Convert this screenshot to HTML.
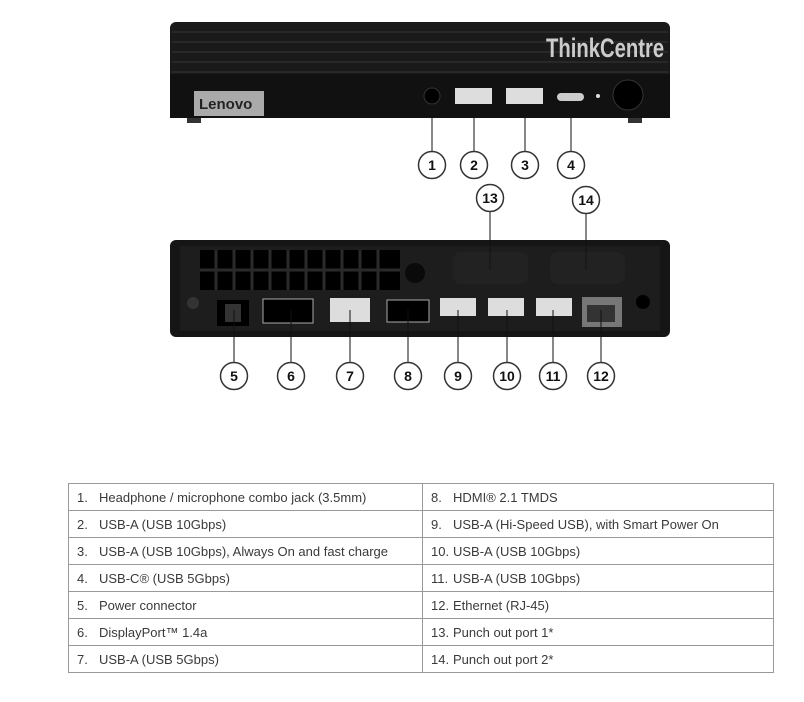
<!DOCTYPE html>
<html><head><style>
body{margin:0;width:804px;height:702px;background:#fff;overflow:hidden;font-family:"Liberation Sans",sans-serif}
svg{position:absolute;left:0;top:0}
table{position:absolute;left:68px;top:483px;border-collapse:collapse;font-size:13px;color:#3a3a3a}
td{border:1px solid #999;height:26px;padding:0 0 0 8px;white-space:nowrap}
td.l{width:345px}td.r{width:342px}
.n{display:inline-block;width:22px}
</style></head><body>
<svg width="804" height="480" viewBox="0 0 804 480" font-family="Liberation Sans,sans-serif">
<!-- front -->
<rect x="170" y="22" width="500" height="96" rx="6" fill="#1a1a1a"/>
<g stroke="#2c2c2c" stroke-width="1.5">
<line x1="172" y1="32" x2="668" y2="32"/><line x1="172" y1="42" x2="668" y2="42"/><line x1="172" y1="52" x2="668" y2="52"/><line x1="172" y1="62" x2="668" y2="62"/><line x1="172" y1="72" x2="668" y2="72"/></g>
<rect x="170" y="74" width="500" height="44" fill="#111"/>
<text transform="translate(546,57) scale(0.75,1)" font-size="27" font-weight="bold" fill="#ccc">ThinkCentre</text>
<rect x="194" y="91" width="70" height="25" fill="#aaa"/>
<text x="199" y="109" font-size="15" font-weight="bold" fill="#222">Lenovo</text>
<rect x="187" y="118" width="14" height="5" fill="#333"/><rect x="628" y="118" width="14" height="5" fill="#333"/>
<circle cx="432" cy="96" r="8" fill="#000" stroke="#333"/>
<rect x="455" y="88" width="37" height="16" fill="#ddd"/><rect x="506" y="88" width="37" height="16" fill="#ddd"/>
<rect x="557" y="93" width="27" height="8" rx="4" fill="#ccc"/>
<circle cx="598" cy="96" r="2" fill="#ddd"/>
<circle cx="628" cy="95" r="15" fill="#000" stroke="#333"/>
<!-- back -->
<rect x="170" y="240" width="500" height="97" rx="6" fill="#151515"/>
<rect x="180" y="246" width="480" height="85" fill="#1d1d1d"/>
<g fill="#000">
<rect x="200" y="250" width="200" height="40"/></g>
<g stroke="#2a2a2a" stroke-width="3">
<line x1="216" y1="250" x2="216" y2="290"/><line x1="234" y1="250" x2="234" y2="290"/><line x1="252" y1="250" x2="252" y2="290"/><line x1="270" y1="250" x2="270" y2="290"/><line x1="288" y1="250" x2="288" y2="290"/><line x1="306" y1="250" x2="306" y2="290"/><line x1="324" y1="250" x2="324" y2="290"/><line x1="342" y1="250" x2="342" y2="290"/><line x1="360" y1="250" x2="360" y2="290"/><line x1="378" y1="250" x2="378" y2="290"/><line x1="200" y1="270" x2="400" y2="270"/></g>
<circle cx="415" cy="273" r="10" fill="#0a0a0a"/>
<rect x="453" y="252" width="75" height="32" rx="8" fill="#222"/><rect x="550" y="252" width="75" height="32" rx="8" fill="#222"/>
<rect x="217" y="300" width="32" height="26" fill="#000"/><rect x="225" y="304" width="16" height="18" fill="#333"/>
<rect x="263" y="299" width="50" height="24" fill="#000" stroke="#aaa"/>
<rect x="330" y="298" width="40" height="24" fill="#ddd"/>
<rect x="387" y="300" width="42" height="22" fill="#000" stroke="#aaa"/>
<rect x="440" y="298" width="36" height="18" fill="#ddd"/><rect x="488" y="298" width="36" height="18" fill="#ddd"/><rect x="536" y="298" width="36" height="18" fill="#ddd"/>
<rect x="582" y="297" width="40" height="30" fill="#777"/><rect x="587" y="305" width="28" height="17" fill="#333"/>
<circle cx="193" cy="303" r="6" fill="#333"/><circle cx="643" cy="302" r="7" fill="#000"/>
<!-- leaders -->
<g stroke="#111" stroke-width="1">
<line x1="432" y1="100" x2="432" y2="151"/><line x1="474" y1="104" x2="474" y2="151"/><line x1="525" y1="104" x2="525" y2="151"/><line x1="571" y1="101" x2="571" y2="151"/>
<line x1="490" y1="212" x2="490" y2="270"/><line x1="586" y1="214" x2="586" y2="270"/>
<line x1="234" y1="310" x2="234" y2="362"/><line x1="291" y1="310" x2="291" y2="362"/><line x1="350" y1="310" x2="350" y2="362"/><line x1="408" y1="310" x2="408" y2="362"/><line x1="458" y1="310" x2="458" y2="362"/><line x1="507" y1="310" x2="507" y2="362"/><line x1="553" y1="310" x2="553" y2="362"/><line x1="601" y1="310" x2="601" y2="362"/>
</g>
<g fill="#fff" stroke="#333" stroke-width="1.5">
<circle cx="432" cy="165" r="13.5"/><circle cx="474" cy="165" r="13.5"/><circle cx="525" cy="165" r="13.5"/><circle cx="571" cy="165" r="13.5"/>
<circle cx="490" cy="198" r="13.5"/><circle cx="586" cy="200" r="13.5"/>
<circle cx="234" cy="376" r="13.5"/><circle cx="291" cy="376" r="13.5"/><circle cx="350" cy="376" r="13.5"/><circle cx="408" cy="376" r="13.5"/><circle cx="458" cy="376" r="13.5"/><circle cx="507" cy="376" r="13.5"/><circle cx="553" cy="376" r="13.5"/><circle cx="601" cy="376" r="13.5"/>
</g>
<g font-size="14" font-weight="bold" fill="#111" text-anchor="middle">
<text x="432" y="170">1</text><text x="474" y="170">2</text><text x="525" y="170">3</text><text x="571" y="170">4</text>
<text x="490" y="203">13</text><text x="586" y="205">14</text>
<text x="234" y="381">5</text><text x="291" y="381">6</text><text x="350" y="381">7</text><text x="408" y="381">8</text><text x="458" y="381">9</text><text x="507" y="381">10</text><text x="553" y="381">11</text><text x="601" y="381">12</text>
</g>
</svg>
<table>
<tr><td class="l"><span class="n">1.</span>Headphone / microphone combo jack (3.5mm)</td><td class="r"><span class="n">8.</span>HDMI® 2.1 TMDS</td></tr>
<tr><td class="l"><span class="n">2.</span>USB-A (USB 10Gbps)</td><td class="r"><span class="n">9.</span>USB-A (Hi-Speed USB), with Smart Power On</td></tr>
<tr><td class="l"><span class="n">3.</span>USB-A (USB 10Gbps), Always On and fast charge</td><td class="r"><span class="n">10.</span>USB-A (USB 10Gbps)</td></tr>
<tr><td class="l"><span class="n">4.</span>USB-C® (USB 5Gbps)</td><td class="r"><span class="n">11.</span>USB-A (USB 10Gbps)</td></tr>
<tr><td class="l"><span class="n">5.</span>Power connector</td><td class="r"><span class="n">12.</span>Ethernet (RJ-45)</td></tr>
<tr><td class="l"><span class="n">6.</span>DisplayPort™ 1.4a</td><td class="r"><span class="n">13.</span>Punch out port 1*</td></tr>
<tr><td class="l"><span class="n">7.</span>USB-A (USB 5Gbps)</td><td class="r"><span class="n">14.</span>Punch out port 2*</td></tr>
</table>
</body></html>
